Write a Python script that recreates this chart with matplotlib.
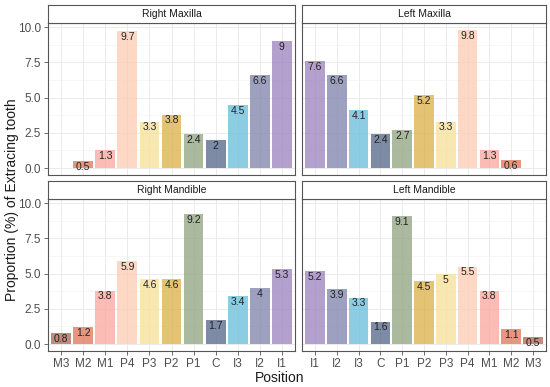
import matplotlib
matplotlib.use("Agg")
import matplotlib.pyplot as plt
import numpy as np

plt.rcParams["font.family"] = ["Liberation Sans", "DejaVu Sans"]

# tooth positions, right side runs M3 -> I1, left side I1 -> M3
right_pos = ["M3", "M2", "M1", "P4", "P3", "P2", "P1", "C", "I3", "I2", "I1"]
left_pos = ["I1", "I2", "I3", "C", "P1", "P2", "P3", "P4", "M1", "M2", "M3"]

right_maxilla = [np.nan, 0.5, 1.3, 9.7, 3.3, 3.8, 2.4, 2, 4.5, 6.6, 9]
left_maxilla = [7.6, 6.6, 4.1, 2.4, 2.7, 5.2, 3.3, 9.8, 1.3, 0.6, np.nan]
right_mandible = [0.8, 1.2, 3.8, 5.9, 4.6, 4.6, 9.2, 1.7, 3.4, 4, 5.3]
left_mandible = [5.2, 3.9, 3.3, 1.6, 9.1, 4.5, 5, 5.5, 3.8, 1.1, 0.5]

tooth_colors = {
    "M3": "#b06a5c", "M2": "#e07a5c", "M1": "#f9aaa0", "P4": "#fdcdb5",
    "P3": "#f8e19c", "P2": "#ddb24e", "P1": "#94a684", "C": "#5a6b8c",
    "I3": "#6cc0dc", "I2": "#8287ad", "I1": "#9f85c0",
}

panels = [
    ("Right Maxilla", right_pos, right_maxilla, (48, 23, 295, 175)),
    ("Left Maxilla", left_pos, left_maxilla, (302, 23, 546, 175)),
    ("Right Mandible", right_pos, right_mandible, (48, 199, 295, 351)),
    ("Left Mandible", left_pos, left_mandible, (302, 199, 546, 351)),
]

W, H = 550, 387
fig = plt.figure(figsize=(W / 100, H / 100), dpi=100)

for i, (title, cats, vals, (x0, y0, x1, y1)) in enumerate(panels):
    ax = fig.add_axes([x0 / W, 1 - y1 / H, (x1 - x0) / W, (y1 - y0) / H])
    xs = np.arange(len(cats))
    for x, c, v in zip(xs, cats, vals):
        if np.isnan(v):
            continue
        ax.bar(x, v, width=0.9, color=tooth_colors[c], alpha=0.78, zorder=2)
        ax.text(x, v - 0.42, f"{v:g}", ha="center", va="center",
                fontsize=7.5, color="#222222", zorder=3)

    ax.set_xlim(-0.6, len(cats) - 0.4)
    ax.set_ylim(-0.49, 10.29)
    ax.set_yticks([0, 2.5, 5, 7.5, 10])
    ax.set_yticks([1.25, 3.75, 6.25, 8.75], minor=True)
    ax.set_xticks(xs)
    ax.grid(which="major", color="#ebebeb", lw=0.7, zorder=0)
    ax.grid(which="minor", axis="y", color="#f2f2f2", lw=0.4, zorder=0)
    ax.set_axisbelow(True)
    for s in ax.spines.values():
        s.set_color("#555555")
        s.set_linewidth(0.8)
    ax.tick_params(which="minor", length=0)
    ax.tick_params(which="major", length=3, width=0.6, color="#555555",
                   labelsize=8.5, labelcolor="#4d4d4d", pad=2)

    if i % 2 == 0:
        ax.set_yticklabels(["0.0", "2.5", "5.0", "7.5", "10.0"])
    else:
        ax.tick_params(axis="y", length=0, labelleft=False)
    if i >= 2:
        ax.set_xticklabels(cats)
    else:
        ax.tick_params(axis="x", length=0, labelbottom=False)

    # facet strip
    sax = fig.add_axes([x0 / W, 1 - y0 / H, (x1 - x0) / W, 18 / H])
    sax.set_xticks([])
    sax.set_yticks([])
    for s in sax.spines.values():
        s.set_color("#555555")
        s.set_linewidth(0.8)
    sax.text(0.5, 0.5, title, ha="center", va="center", fontsize=7.5,
             color="#1a1a1a", transform=sax.transAxes)

fig.text(0.022, 0.485, "Proportion (%) of Extracing tooth", rotation=90,
         ha="center", va="center", fontsize=10, color="#1a1a1a")
fig.text(0.509, 0.022, "Position", ha="center", va="center",
         fontsize=10, color="#1a1a1a")

fig.savefig("out.png", dpi=100)
